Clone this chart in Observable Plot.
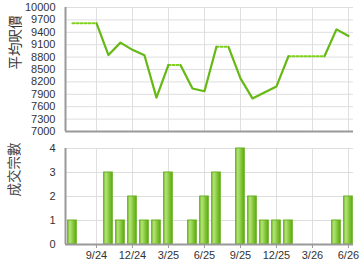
<!DOCTYPE html>
<html><head><meta charset="utf-8">
<script src="https://cdn.jsdelivr.net/npm/d3@7"></script>
<script src="https://cdn.jsdelivr.net/npm/@observablehq/plot@0.6"></script>
<style>
body{margin:0;background:#fff;}
#chart{width:360px;height:270px;}
#chart svg{display:block;}
</style></head><body><div id="chart"></div>
<script>
const months = ["7/24","8/24","9/24","10/24","11/24","12/24","1/25","2/25","3/25","4/25","5/25","6/25","7/25","8/25","9/25","10/25","11/25","12/25","1/26","2/26","3/26","4/26","5/26","6/26"];
const avgPrice = [9620,null,null,8850,9150,8975,8845,7820,8610,null,8040,7975,9050,null,8285,7800,7945,8090,8820,null,null,null,9470,9310];
const dealCount = [1,0,0,3,1,2,1,1,3,0,1,2,3,0,4,2,1,1,1,0,0,0,1,2];
const tickLabels = ["9/24","12/24","3/25","6/25","9/25","12/25","3/26","6/26"];
const priceTicks = [7000,7300,7600,7900,8200,8500,8800,9100,9400,9700,10000];
const countTicks = [0,1,2,3,4];
const priceTitle = "平均呎價";
const countTitle = "成交宗數";

// carried-forward values: dotted where month has no real value
let last = null;
const pts = months.map((m,i)=>{const real = avgPrice[i]!=null; if(real) last = avgPrice[i]; return {i, v:last, real};});
const runs = []; let cur = null;
for (let i=0;i<pts.length-1;i++){
  const type = pts[i+1].real ? "solid" : "dotted";
  if(!cur || cur.type!==type){cur={type,id:runs.length,pts:[pts[i]]}; runs.push(cur);}
  cur.pts.push(pts[i+1]);
}
const solidPts = runs.filter(r=>r.type==="solid").flatMap(r=>r.pts.map(p=>({...p,run:r.id})));
const dottedPts = runs.filter(r=>r.type==="dotted").flatMap(r=>r.pts.map(p=>({...p,run:r.id})));
const bars = dealCount.map((c,i)=>({i,c})).filter(d=>d.c>0);

const xDomain = [-0.58, 23.42];
const xTicks = tickLabels.map(t=>months.indexOf(t));
const font = "'Liberation Sans', Arial, sans-serif";
const cjk = "'Noto Sans CJK TC', sans-serif";
const gridC = "#dedede";
const axisC = "#999";

const topChart = Plot.plot({
  width:360, height:140, marginLeft:65, marginRight:7, marginTop:7, marginBottom:9,
  style:{fontFamily:font, fontSize:"11px", color:"#333", background:"transparent"},
  x:{domain:xDomain, axis:null},
  y:{domain:[7000,10000], axis:null},
  marks:[
    Plot.gridX(xTicks,{stroke:gridC, strokeOpacity:1}),
    Plot.gridY(priceTicks,{stroke:gridC, strokeOpacity:1}),
    Plot.axisY(priceTicks,{tickSize:0, tickPadding:10, label:null, fill:"#333", fontSize:11, tickFormat:d=>String(d)}),
    Plot.ruleX([xDomain[0]],{stroke:axisC, strokeWidth:2}),
    Plot.ruleY([7000],{stroke:axisC, strokeWidth:2}),
    Plot.line(dottedPts,{x:"i",y:"v",z:"run",stroke:"#80d020",strokeWidth:2,strokeDasharray:"2,2"}),
    Plot.line(solidPts,{x:"i",y:"v",z:"run",stroke:"#66b814",strokeWidth:2.2}),
    Plot.text([priceTitle],{frameAnchor:"left",dx:-50,rotate:-90,fontSize:13.5,fontFamily:cjk,fill:"#333"})
  ]
});

const bottomChart = Plot.plot({
  width:360, height:130, marginLeft:65, marginRight:7, marginTop:8, marginBottom:26,
  style:{fontFamily:font, fontSize:"11px", color:"#333", background:"transparent"},
  x:{domain:xDomain, axis:null},
  y:{domain:[0,4], axis:null},
  marks:[
    Plot.gridX(xTicks,{stroke:gridC, strokeOpacity:1}),
    Plot.gridY(countTicks,{stroke:gridC, strokeOpacity:1}),
    Plot.rectY(bars,{x1:d=>d.i-0.36, x2:d=>d.i+0.36, y:"c", fill:"url(#barGrad)", stroke:"#67b020", strokeWidth:1}),
    Plot.axisY(countTicks,{tickSize:0, tickPadding:10, label:null, fill:"#333", fontSize:11}),
    Plot.axisX(xTicks,{tickSize:4, tickPadding:3, stroke:axisC, label:null, fill:"#333", fontSize:11, tickFormat:i=>months[i]}),
    Plot.ruleX([xDomain[0]],{stroke:axisC, strokeWidth:2}),
    Plot.ruleY([0],{stroke:axisC, strokeWidth:2}),
    Plot.text([countTitle],{frameAnchor:"left",dx:-51,rotate:-90,fontSize:13.5,fontFamily:cjk,fill:"#444"})
  ]
});

d3.select(bottomChart).insert("defs",":first-child").html(
  '<linearGradient id="barGrad" x1="0" x2="1" y1="0" y2="0">'+
  '<stop offset="0" stop-color="#7cc232"/>'+
  '<stop offset="0.25" stop-color="#b4e27a"/>'+
  '<stop offset="0.5" stop-color="#96d24e"/>'+
  '<stop offset="0.75" stop-color="#74bd28"/>'+
  '<stop offset="1" stop-color="#62a81c"/>'+
  '</linearGradient>');

const el = document.getElementById("chart");
el.append(topChart, bottomChart);
</script>
</body></html>
